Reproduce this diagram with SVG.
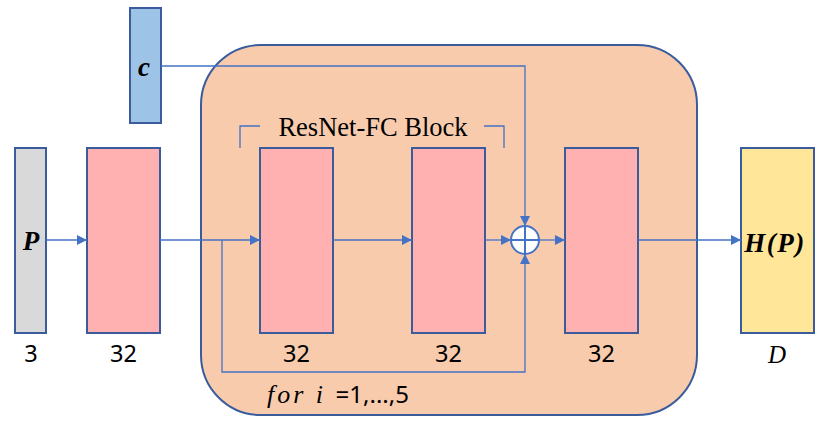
<svg xmlns="http://www.w3.org/2000/svg" width="830" height="423" viewBox="0 0 830 423">
<defs>
<marker id="ah" viewBox="0 0 10 10" refX="10" refY="5" markerWidth="10" markerHeight="10" markerUnits="userSpaceOnUse" orient="auto">
<path d="M0,0 L10,5 L0,10 Z" fill="#4472C4"/>
</marker>
<style>
.box{stroke:#3A5C9C;stroke-width:2}
.pink{fill:#FFB0B0}
.ln{fill:none;stroke:#4472C4;stroke-width:1.3}
.lbl{font-family:"Noto Sans","Open Sans",sans-serif;font-size:23.5px;fill:#000;text-anchor:middle}
.math{font-family:"Liberation Serif","DejaVu Serif",serif;font-style:italic;font-weight:bold;font-size:27px;fill:#000;text-anchor:middle}
</style>
</defs>
<g id="block">
<rect x="201" y="45" width="496" height="370" rx="60" ry="60" fill="#F8CBAD" stroke="#3A5C9C" stroke-width="2"/>
</g>
<g id="c-node">
<rect class="box" x="130" y="8" width="31" height="115" fill="#9DC3E6"/>
<text class="math" x="144" y="76">c</text>
</g>
<g id="p-node">
<rect class="box" x="15" y="148" width="31" height="185" fill="#D9D9D9"/>
<text class="math" x="31" y="250">P</text>
<text class="lbl" x="31" y="362">3</text>
</g>
<g id="fc1">
<rect class="box pink" x="87" y="148" width="73" height="185"/>
<text class="lbl" x="123.5" y="362">32</text>
</g>
<g id="fc2">
<rect class="box pink" x="260" y="148" width="73" height="185"/>
<text class="lbl" x="296.5" y="362">32</text>
</g>
<g id="fc3">
<rect class="box pink" x="412" y="148" width="73" height="185"/>
<text class="lbl" x="448.5" y="362">32</text>
</g>
<g id="fc4">
<rect class="box pink" x="565" y="148" width="73" height="185"/>
<text class="lbl" x="601.5" y="362">32</text>
</g>
<g id="out">
<rect class="box" x="741" y="148" width="73" height="185" fill="#FFE699"/>
<text class="math" x="775" y="252" letter-spacing="1.5">H(P)</text>
<text x="777" y="363" font-family="Liberation Serif,serif" font-style="italic" font-size="25" text-anchor="middle">D</text>
</g>
<g id="label">
<path class="ln" d="M240,148 V126 H260 M484,126 H504 V148"/>
<text x="373" y="136" font-family="Liberation Serif,serif" font-size="26.5" text-anchor="middle">ResNet-FC Block</text>
<text x="267" y="403" font-family="Liberation Serif,serif" font-size="26"><tspan font-style="italic" letter-spacing="3">for i </tspan><tspan font-family="Noto Sans,sans-serif" font-size="24">=1,...,5</tspan></text>
</g>
<g id="connectors">
<line class="ln" x1="46" y1="240" x2="87" y2="240" marker-end="url(#ah)"/>
<line class="ln" x1="160" y1="240" x2="260" y2="240" marker-end="url(#ah)"/>
<line class="ln" x1="333" y1="240" x2="412" y2="240" marker-end="url(#ah)"/>
<line class="ln" x1="485" y1="240" x2="511" y2="240" marker-end="url(#ah)"/>
<line class="ln" x1="539" y1="240" x2="565" y2="240" marker-end="url(#ah)"/>
<line class="ln" x1="638" y1="240" x2="741" y2="240" marker-end="url(#ah)"/>
<path class="ln" d="M161,66 H525 V226" marker-end="url(#ah)"/>
<path class="ln" d="M222,240 V372 H525 V254" marker-end="url(#ah)"/>
</g>
<g id="sum">
<circle cx="525" cy="240" r="14" fill="#fff" stroke="#4472C4" stroke-width="2"/>
<path d="M511,240 H539 M525,226 V254" stroke="#4472C4" stroke-width="2"/>
</g>
</svg>
